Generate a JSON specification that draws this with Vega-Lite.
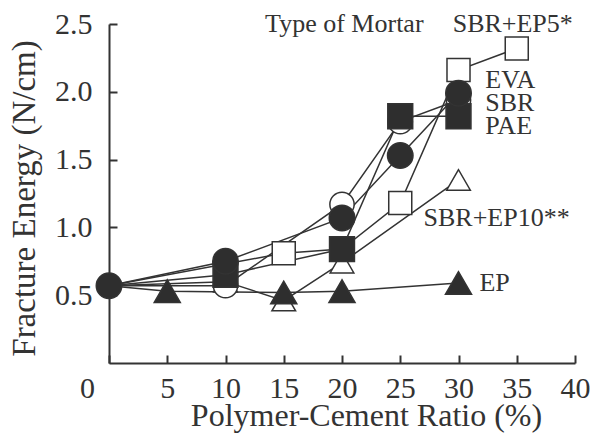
{
  "$schema": "https://vega.github.io/schema/vega-lite/v6.json",
  "width": 466,
  "height": 339,
  "autosize": {"type": "none"},
  "padding": {"left": 109, "top": 24, "right": 23, "bottom": 72},
  "background": "white",
  "config": {
    "view": {"stroke": null},
    "axis": {
      "grid": false,
      "domainColor": "#333",
      "domainWidth": 2,
      "tickColor": "#333",
      "tickWidth": 2,
      "tickSize": -8,
      "labelFont": "Liberation Serif",
      "labelFontSize": 30,
      "labelColor": "#333",
      "labelFlush": false,
      "labelOverlap": false,
      "titleFont": "Liberation Serif",
      "titleFontWeight": "normal",
      "titleColor": "#333"
    }
  },
  "datasets": {
    "pts": [
      {"series": "SBR+EP5*", "x": 0, "y": 0.57},
      {"series": "SBR+EP5*", "x": 15, "y": 0.81},
      {"series": "SBR+EP5*", "x": 20, "y": 0.84},
      {"series": "SBR+EP5*", "x": 25, "y": 1.18},
      {"series": "SBR+EP5*", "x": 30, "y": 2.16},
      {"series": "SBR+EP5*", "x": 35, "y": 2.32},
      {"series": "SBR+EP10**", "x": 0, "y": 0.57},
      {"series": "SBR+EP10**", "x": 10, "y": 0.6},
      {"series": "SBR+EP10**", "x": 15, "y": 0.46},
      {"series": "SBR+EP10**", "x": 20, "y": 0.74},
      {"series": "SBR+EP10**", "x": 30, "y": 1.35},
      {"series": "EVA", "x": 0, "y": 0.57},
      {"series": "EVA", "x": 10, "y": 0.57},
      {"series": "EVA", "x": 20, "y": 1.17},
      {"series": "EVA", "x": 25, "y": 1.78},
      {"series": "EVA", "x": 30, "y": 1.94},
      {"series": "PAE", "x": 0, "y": 0.57},
      {"series": "PAE", "x": 10, "y": 0.65},
      {"series": "PAE", "x": 20, "y": 0.84},
      {"series": "PAE", "x": 25, "y": 1.82},
      {"series": "PAE", "x": 30, "y": 1.82},
      {"series": "SBR", "x": 0, "y": 0.57},
      {"series": "SBR", "x": 10, "y": 0.75},
      {"series": "SBR", "x": 20, "y": 1.07},
      {"series": "SBR", "x": 25, "y": 1.53},
      {"series": "SBR", "x": 30, "y": 1.99},
      {"series": "EP", "x": 0, "y": 0.57},
      {"series": "EP", "x": 5, "y": 0.53},
      {"series": "EP", "x": 15, "y": 0.52},
      {"series": "EP", "x": 20, "y": 0.53},
      {"series": "EP", "x": 30, "y": 0.59}
    ],
    "labels": [
      {"label": "Type of Mortar", "x": 13.4, "y": 2.5},
      {"label": "SBR+EP5*", "x": 29.5, "y": 2.5},
      {"label": "EVA", "x": 32.3, "y": 2.09},
      {"label": "SBR", "x": 32.3, "y": 1.92},
      {"label": "PAE", "x": 32.3, "y": 1.75},
      {"label": "SBR+EP10**", "x": 27.0, "y": 1.07},
      {"label": "EP", "x": 31.8, "y": 0.59}
    ]
  },
  "encoding": {
    "x": {
      "field": "x",
      "type": "quantitative",
      "scale": {"domain": [0, 40], "nice": false, "zero": false},
      "axis": {
        "title": "Polymer-Cement Ratio (%)",
        "values": [0, 5, 10, 15, 20, 25, 30, 35, 40],
        "labelPadding": 18,
        "labelOffset": {"condition": {"test": "datum.value === 0", "value": -22}, "value": 0},
        "titleFontSize": 32,
        "titleBaseline": "alphabetic",
        "titleAlign": "center",
        "titleX": 257,
        "titleY": 62
      }
    },
    "y": {
      "field": "y",
      "type": "quantitative",
      "scale": {"domain": [0, 2.5], "nice": false, "zero": false},
      "axis": {
        "title": "Fracture Energy (N/cm)",
        "values": [0.5, 1.0, 1.5, 2.0, 2.5],
        "format": ".1f",
        "labelPadding": 25,
        "titleFontSize": 33,
        "titleAngle": -90,
        "titleBaseline": "alphabetic",
        "titleAlign": "center",
        "titleX": -75,
        "titleY": 174
      }
    }
  },
  "layer": [
    {
      "data": {"name": "pts"},
      "mark": {"type": "line", "color": "#333", "strokeWidth": 1.5},
      "encoding": {"detail": {"field": "series", "type": "nominal"}}
    },
    {
      "data": {"name": "pts"},
      "transform": [{"filter": "datum.x > 0 || datum.series === 'SBR'"}],
      "mark": {"type": "point", "filled": true, "stroke": "#333", "strokeWidth": 1.5, "opacity": 1},
      "encoding": {
        "shape": {
          "field": "series", "type": "nominal", "legend": null,
          "scale": {
            "domain": ["SBR+EP5*", "SBR+EP10**", "EVA", "PAE", "SBR", "EP"],
            "range": ["square", "triangle-up", "circle", "square", "circle", "triangle-up"]
          }
        },
        "fill": {
          "field": "series", "type": "nominal", "legend": null,
          "scale": {
            "domain": ["SBR+EP5*", "SBR+EP10**", "EVA", "PAE", "SBR", "EP"],
            "range": ["white", "white", "white", "#2e2e2e", "#2e2e2e", "#2e2e2e"]
          }
        },
        "size": {
          "field": "series", "type": "nominal", "legend": null,
          "scale": {
            "domain": ["SBR+EP5*", "SBR+EP10**", "EVA", "PAE", "SBR", "EP"],
            "range": [530, 680, 760, 530, 760, 680]
          }
        }
      }
    },
    {
      "data": {"name": "labels"},
      "mark": {"type": "text", "align": "left", "baseline": "middle", "font": "Liberation Serif", "fontSize": 26, "color": "#333"},
      "encoding": {"text": {"field": "label", "type": "nominal"}}
    }
  ]
}
